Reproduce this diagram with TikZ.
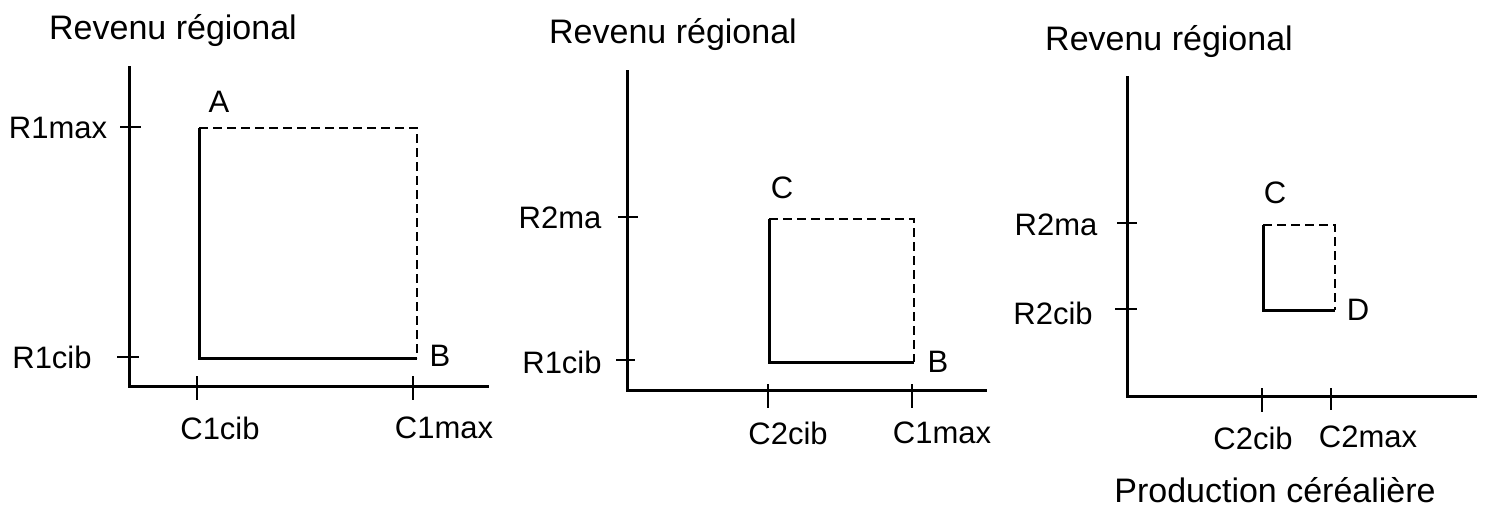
\documentclass[tikz,border=0pt]{standalone}
\usepackage{fontspec}
\setmainfont{Liberation Sans}
\usepackage{tikz}

\begin{document}
\begin{tikzpicture}[x=1pt, y=-1pt, every node/.style={inner sep=0pt, font=\fontsize{31}{37}\selectfont}]
        % Line styles
        \tikzstyle{axis} = [line width=3pt, line cap=rect]
        \tikzstyle{tick} = [line width=2pt]
        \tikzstyle{solidside} = [line width=3pt]
        \tikzstyle{dashside} = [line width=1.8pt, dash pattern=on 9pt off 5pt]
        \tikzstyle{axistitle} = [font=\fontsize{34}{40}\selectfont]

        \useasboundingbox (0,0) rectangle (1485,511);

        % Left panel
        \node (titleA) [axistitle] at (173,31) {Revenu régional};
        \coordinate (origA) at (129,386);
        \coordinate (ytopA) at (129,68);
        \coordinate (xendA) at (487,386);
        \draw [axis] (ytopA) -- (origA) -- (xendA);
        \coordinate (rmaxA) at (129,127);
        \coordinate (rcibA) at (129,357);
        \coordinate (ccibA) at (197,386);
        \coordinate (cmaxA) at (413,386);
        \draw [tick] ([xshift=-9]rmaxA) -- ([xshift=12]rmaxA);
        \draw [tick] ([xshift=-12]rcibA) -- ([xshift=10]rcibA);
        \draw [tick] ([yshift=10]ccibA) -- ([yshift=-14]ccibA);
        \draw [tick] ([yshift=10]cmaxA) -- ([yshift=-14]cmaxA);
        \coordinate (tlA) at (199,128);
        \coordinate (brA) at (417,358);
        \draw [solidside] (tlA) -- (tlA |- brA) -- (brA);
        \draw [dashside] (tlA) -- (tlA -| brA) -- (brA);
        \node (ptA) at (219,102) {A};
        \node (ptB) at (440,356) {B};
        \node (lrmaxA) at (58,128) {R1max};
        \node (lrcibA) at (52,357) {R1cib};
        \node (lccibA) at (220,428) {C1cib};
        \node (lcmaxA) at (444,428) {C1max};

        % Middle panel
        \node (titleB) [axistitle] at (673,35) {Revenu régional};
        \coordinate (origB) at (627,390);
        \coordinate (ytopB) at (627,72);
        \coordinate (xendB) at (985,390);
        \draw [axis] (ytopB) -- (origB) -- (xendB);
        \coordinate (rmaxB) at (627,217);
        \coordinate (rcibB) at (627,360);
        \coordinate (ccibB) at (768,390);
        \coordinate (cmaxB) at (912,390);
        \draw [tick] ([xshift=-9]rmaxB) -- ([xshift=11]rmaxB);
        \draw [tick] ([xshift=-11]rcibB) -- ([xshift=8]rcibB);
        \draw [tick] ([yshift=6]ccibB) -- ([yshift=-18]ccibB);
        \draw [tick] ([yshift=6]cmaxB) -- ([yshift=-18]cmaxB);
        \coordinate (tlB) at (769,219);
        \coordinate (brB) at (914,362);
        \draw [solidside] (tlB) -- (tlB |- brB) -- (brB);
        \draw [dashside] (tlB) -- (tlB -| brB) -- (brB);
        \node (ptCB) at (782,188) {C};
        \node (ptBB) at (938,362) {B};
        \node (lrmaxB) at (560,218) {R2ma};
        \node (lrcibB) at (562,362) {R1cib};
        \node (lccibB) at (788,433) {C2cib};
        \node (lcmaxB) at (942,433) {C1max};

        % Right panel
        \node (titleC) [axistitle] at (1169,42) {Revenu régional};
        \coordinate (origC) at (1127,396);
        \coordinate (ytopC) at (1127,77);
        \coordinate (xendC) at (1475,396);
        \draw [axis] (ytopC) -- (origC) -- (xendC);
        \coordinate (rmaxC) at (1127,223);
        \coordinate (rcibC) at (1127,309);
        \coordinate (ccibC) at (1262,396);
        \coordinate (cmaxC) at (1331,396);
        \draw [tick] ([xshift=-10]rmaxC) -- ([xshift=10]rmaxC);
        \draw [tick] ([xshift=-12]rcibC) -- ([xshift=10]rcibC);
        \draw [tick] ([yshift=8]ccibC) -- ([yshift=-16]ccibC);
        \draw [tick] ([yshift=8]cmaxC) -- ([yshift=-14]cmaxC);
        \coordinate (tlC) at (1263,225);
        \coordinate (brC) at (1335,310);
        \draw [solidside] (tlC) -- (tlC |- brC) -- (brC);
        \draw [dashside] (tlC) -- (tlC -| brC) -- (brC);
        \node (ptCC) at (1275,193) {C};
        \node (ptDC) at (1358,310) {D};
        \node (lrmaxC) at (1056,225) {R2ma};
        \node (lrcibC) at (1053,313) {R2cib};
        \node (lccibC) at (1253,438) {C2cib};
        \node (lcmaxC) at (1368,437) {C2max};
        \node (xlabel) [axistitle] at (1275,490) {Production céréalière};
    \end{tikzpicture}
\end{document}
